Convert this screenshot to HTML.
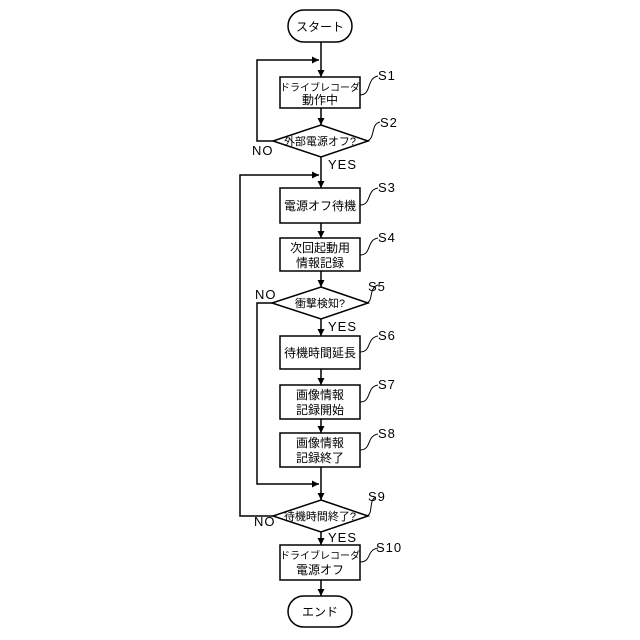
<!DOCTYPE html><html><head><meta charset="utf-8"><style>body{margin:0;background:#fff}svg{display:block}text{font-family:"Liberation Sans","Noto Sans CJK JP",sans-serif;fill:#000}</style></head><body>
<svg width="640" height="640" viewBox="0 0 640 640" xmlns="http://www.w3.org/2000/svg">
<defs><marker id="a" viewBox="0 0 10 10" refX="10" refY="5" markerWidth="7" markerHeight="7" orient="auto" markerUnits="userSpaceOnUse"><path d="M0,0L10,5L0,10z"/></marker></defs>
<g stroke="#000" stroke-width="1.5" fill="#fff">
<rect x="288" y="10" width="64" height="32" rx="16"/>
<rect x="280" y="77" width="80" height="31"/>
<polygon points="321,125 368,141 321,157 273,141"/>
<rect x="280" y="188" width="80" height="35"/>
<rect x="280" y="238" width="80" height="33"/>
<polygon points="321,287 368,303 321,319 272,303"/>
<rect x="280" y="336" width="80" height="33"/>
<rect x="280" y="385" width="80" height="34"/>
<rect x="280" y="433" width="80" height="34"/>
<polygon points="321,500 368,516 321,532 273,516"/>
<rect x="280" y="545" width="80" height="35"/>
<rect x="288" y="596" width="64" height="31" rx="15.5"/>
</g>
<g stroke="#000" stroke-width="1.5" fill="none" marker-end="url(#a)">
<line x1="321" y1="42" x2="321" y2="77"/>
<line x1="321" y1="108" x2="321" y2="125"/>
<line x1="321" y1="157" x2="321" y2="188"/>
<line x1="321" y1="223" x2="321" y2="238"/>
<line x1="321" y1="271" x2="321" y2="287"/>
<line x1="321" y1="319" x2="321" y2="336"/>
<line x1="321" y1="369" x2="321" y2="385"/>
<line x1="321" y1="419" x2="321" y2="433"/>
<line x1="321" y1="467" x2="321" y2="500"/>
<line x1="321" y1="532" x2="321" y2="545"/>
<line x1="321" y1="580" x2="321" y2="596"/>
<polyline points="273,141 257,141 257,60 319,60"/>
<polyline points="273,516 240,516 240,175 319,175"/>
<polyline points="272,303 257,303 257,484 319,484"/>
</g>
<g stroke="#000" stroke-width="1" fill="none">
<path d="M360,95 C372,95 366,78 378,76"/>
<path d="M366,141 C376,140 370,124 380,122"/>
<path d="M360,205 C372,205 366,190 378,188"/>
<path d="M360,255 C372,255 366,240 378,238"/>
<path d="M366,303 C374,302 368,288 378,285"/>
<path d="M360,352 C372,352 366,338 378,336"/>
<path d="M360,402 C372,402 366,387 378,385"/>
<path d="M360,450 C372,450 366,436 378,434"/>
<path d="M366,516 C374,515 368,500 376,497"/>
<path d="M360,562 C372,562 366,550 378,548"/>
</g>
<g font-size="12" text-anchor="middle">
<text x="320" y="31">スタート</text>
<text x="320" y="91" font-size="10">ドライブレコーダ</text><text x="320" y="104">動作中</text>
<text x="320" y="145" font-size="11">外部電源オフ?</text>
<text x="320" y="210">電源オフ待機</text>
<text x="320" y="252">次回起動用</text><text x="320" y="267">情報記録</text>
<text x="320" y="307" font-size="11">衝撃検知?</text>
<text x="320" y="357">待機時間延長</text>
<text x="320" y="399">画像情報</text><text x="320" y="414">記録開始</text>
<text x="320" y="447">画像情報</text><text x="320" y="462">記録終了</text>
<text x="320" y="520" font-size="11">待機時間終了?</text>
<text x="320" y="559" font-size="10">ドライブレコーダ</text><text x="320" y="574">電源オフ</text>
<text x="320" y="616">エンド</text>
</g>
<g font-size="13" letter-spacing="1">
<text x="378" y="80">S1</text><text x="380" y="127">S2</text><text x="378" y="192">S3</text><text x="378" y="242">S4</text><text x="368" y="291">S5</text><text x="378" y="340">S6</text><text x="378" y="389">S7</text><text x="378" y="438">S8</text><text x="368" y="501">S9</text><text x="376" y="552">S10</text>
<text x="252" y="155">NO</text><text x="328" y="169">YES</text>
<text x="255" y="299">NO</text><text x="328" y="331">YES</text>
<text x="254" y="526">NO</text><text x="328" y="542">YES</text>
</g>
</svg></body></html>
